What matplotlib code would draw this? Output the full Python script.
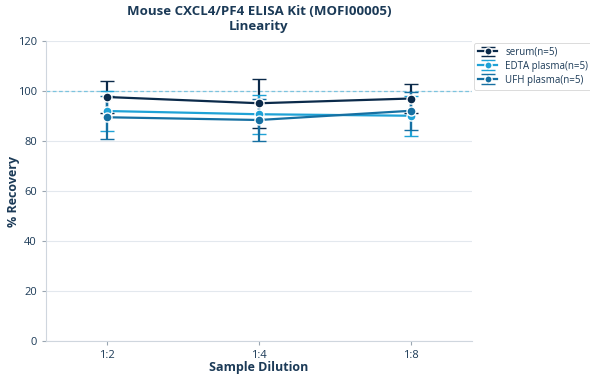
import numpy as np
import matplotlib.pyplot as plt

plt.rcParams['font.family'] = ['Open Sans', 'DejaVu Sans']

# ─── data ───
dilutions = ["1:2", "1:4", "1:8"]
series_names = ["serum(n=5)", "EDTA plasma(n=5)", "UFH plasma(n=5)"]
serum = [97.6, 95.1, 97.0]
serum_err = [6.4, 9.9, 5.8]
edta = [92.0, 90.7, 90.1]
edta_err = [8.0, 7.7, 8.1]
ufh = [89.5, 88.4, 92.1]
ufh_err = [8.5, 8.6, 7.7]

TEXT = "#1b3a57"
colors = ["#0b2a4a", "#1fa2d6", "#1670a2"]

fig = plt.figure(figsize=(5.9, 3.8), dpi=100)
ax = fig.add_axes([46 / 590, 1 - 341 / 380, 426 / 590, 300 / 380])

x = np.arange(len(dilutions))
for name, vals, errs, c in zip(series_names, [serum, edta, ufh],
                               [serum_err, edta_err, ufh_err], colors):
    ax.errorbar(x, vals, yerr=errs, color=c, linewidth=1.6, marker="o",
                markersize=6.5, markeredgecolor="white", markeredgewidth=1.0,
                capsize=5, capthick=1.6, elinewidth=1.6, label=name, zorder=3)

ax.axhline(100, color="#7cc4de", linestyle=(0, (3, 2)), linewidth=0.9, zorder=1)

ax.set_xlim(-0.4, 2.4)
ax.set_ylim(0, 120)
ax.set_yticks(np.arange(0, 121, 20))
ax.set_xticks(x)
ax.set_xticklabels(dilutions)
ax.grid(axis="y", color="#e3e8ee", linewidth=0.8, zorder=0)
ax.set_axisbelow(True)
for s in ["top", "right"]:
    ax.spines[s].set_visible(False)
for s in ["left", "bottom"]:
    ax.spines[s].set_color("#cfd6de")
ax.tick_params(colors="#9aa6b2", labelcolor=TEXT, labelsize=8, length=3)

ax.set_xlabel("Sample Dilution", fontsize=9, fontweight="bold", color=TEXT)
ax.set_ylabel("% Recovery", fontsize=9, fontweight="bold", color=TEXT)
ax.yaxis.set_label_coords(-0.062, 0.5)
ax.xaxis.set_label_coords(0.5, -0.068)
ax.set_title("Mouse CXCL4/PF4 ELISA Kit (MOFI00005)\nLinearity", fontsize=9.5,
             fontweight="bold", color=TEXT, linespacing=1.15, pad=8)

leg = ax.legend(loc="upper left", bbox_to_anchor=(1.0, 1.0), fontsize=7,
                frameon=True, borderaxespad=0.2, handlelength=2,
                labelspacing=0.3, markerscale=0.8)
leg.get_frame().set_edgecolor("#cccccc")
leg.get_frame().set_linewidth(0.6)
for t in leg.get_texts():
    t.set_color(TEXT)

fig.savefig("out.png", dpi=100)
